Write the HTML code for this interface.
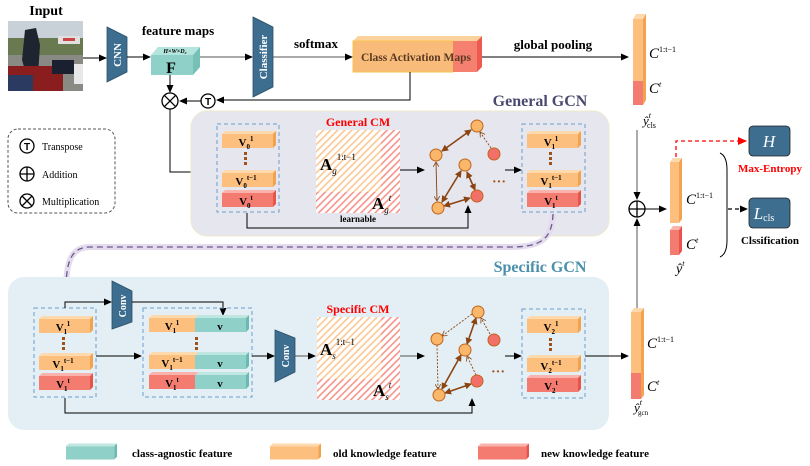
<!DOCTYPE html>
<html><head><meta charset="utf-8"><style>
html,body{margin:0;padding:0;background:#fff;}
svg{display:block;font-family:"Liberation Serif",serif;}
.b{font-weight:bold;}
</style></head><body>
<svg width="810" height="466" viewBox="0 0 810 466" xmlns="http://www.w3.org/2000/svg">
<defs>
<marker id="ar" markerWidth="8" markerHeight="8" refX="7" refY="4" orient="auto" markerUnits="userSpaceOnUse"><path d="M0,0.5 L8,4 L0,7.5 z" fill="#000"/></marker>
<marker id="arr" markerWidth="9" markerHeight="9" refX="8" refY="4.5" orient="auto" markerUnits="userSpaceOnUse"><path d="M0,0.5 L9,4.5 L0,8.5 z" fill="#f00"/></marker>
<marker id="brn" markerWidth="7" markerHeight="7" refX="6" refY="3.5" orient="auto-start-reverse" markerUnits="userSpaceOnUse"><path d="M0,0 L7,3.5 L0,7 z" fill="#8b4513"/></marker>
<marker id="brd" markerWidth="6" markerHeight="6" refX="5" refY="3" orient="auto" markerUnits="userSpaceOnUse"><path d="M0,0 L5,3 L0,6" fill="none" stroke="#8b4513" stroke-width="0.8"/></marker>
<pattern id="hO" width="5" height="5" patternUnits="userSpaceOnUse" patternTransform="rotate(45)"><rect width="5" height="5" fill="#fff"/><rect width="1.6" height="5" fill="#fbc894"/></pattern>
<pattern id="hR" width="5" height="5" patternUnits="userSpaceOnUse" patternTransform="rotate(45)"><rect width="5" height="5" fill="#fff"/><rect width="1.6" height="5" fill="#f7948c"/></pattern>
<symbol id="bo" viewBox="0 0 54 17" width="54" height="17"><path d="M0,3 L3,0 L54,0 L51,3z" fill="#fdd9ae"/><path d="M51,3 L54,0 L54,14 L51,17z" fill="#f3a24e"/><rect x="0" y="3" width="51" height="14" fill="#fdbf7e"/></symbol>
<symbol id="br" viewBox="0 0 54 17" width="54" height="17"><path d="M0,3 L3,0 L54,0 L51,3z" fill="#f9b3ac"/><path d="M51,3 L54,0 L54,14 L51,17z" fill="#e8544a"/><rect x="0" y="3" width="51" height="14" fill="#f47b70"/></symbol>
<symbol id="bt" viewBox="0 0 54 17" width="54" height="17"><path d="M0,3 L3,0 L54,0 L51,3z" fill="#bfe6e1"/><path d="M51,3 L54,0 L54,14 L51,17z" fill="#6bbab1"/><rect x="0" y="3" width="51" height="14" fill="#8fd1c8"/></symbol>
</defs>

<text x="46" y="15" class="b" font-size="14" text-anchor="middle">Input</text>
<rect x="8" y="21" width="75" height="70" fill="#9aa0a0"/>
<rect x="8" y="21" width="75" height="20" fill="#c8d0d8"/>
<rect x="8" y="38" width="75" height="18" fill="#6a7a50"/>
<rect x="58" y="36" width="22" height="8" fill="#e0e0e0"/><rect x="63" y="38" width="12" height="3" fill="#c44"/>
<rect x="8" y="55" width="75" height="36" fill="#8a8a84"/>
<path d="M25,30 L36,28 L40,45 L38,75 L28,80 L22,60z" fill="#1e2430"/>
<rect x="8" y="66" width="55" height="25" fill="#8a1e1e"/>
<rect x="52" y="60" width="22" height="14" fill="#1a2030"/>
<rect x="74" y="64" width="9" height="20" fill="#e8e8e8"/>
<rect x="8" y="75" width="25" height="16" fill="#2a3a60"/>

<path d="M107,27 L127,37 L127,72 L107,82z" fill="#3d6e8f" stroke="#2a4f66" stroke-width="0.8"/>
<text transform="translate(121,55) rotate(-90)" class="b" font-size="11" fill="#fff" text-anchor="middle">CNN</text>
<line x1="83" y1="58" x2="106" y2="58" stroke="#000" stroke-width="1" marker-end="url(#ar)"/>
<line x1="127" y1="57" x2="150" y2="57" stroke="#000" stroke-width="1" marker-end="url(#ar)"/>

<text x="178" y="35" class="b" font-size="13" text-anchor="middle">feature maps</text>
<path d="M151,55 L158,47 L200,47 L193,55z" fill="#b4e4de"/>
<path d="M193,55 L200,47 L200,67 L193,75z" fill="#75c0b7"/>
<rect x="151" y="55" width="42" height="20" fill="#8fd1c8"/>
<text x="175" y="53" font-size="6" font-style="italic" class="b" text-anchor="middle">H×W×D₀</text>
<text x="171" y="73" font-size="16" class="b" text-anchor="middle">F</text>
<line x1="200" y1="57" x2="252" y2="57" stroke="#555" stroke-width="1" marker-end="url(#ar)"/>

<path d="M253,17 L273,27 L273,87 L253,97z" fill="#3d6e8f" stroke="#2a4f66" stroke-width="0.8"/>
<text transform="translate(267,57) rotate(-90)" class="b" font-size="11" fill="#fff" text-anchor="middle">Classifier</text>
<text x="316" y="48" class="b" font-size="13" text-anchor="middle">softmax</text>
<line x1="273" y1="57" x2="352" y2="57" stroke="#555" stroke-width="1" marker-end="url(#ar)"/>

<path d="M353,41 L358,36 L482,36 L477,41z" fill="#fcd29c"/>
<rect x="353" y="41" width="100" height="31" fill="#f9bb7a" stroke="#fbc24d" stroke-width="1"/>
<rect x="453" y="41" width="24" height="31" fill="#f58070"/>
<path d="M477,41 L482,36 L482,67 L477,72z" fill="#ee5a50"/>
<text x="416" y="61" class="b" font-size="11.5" fill="#5a3a22" text-anchor="middle">Class Activation Maps</text>
<text x="553" y="49" class="b" font-size="13" text-anchor="middle">global pooling</text>
<line x1="482" y1="57" x2="628" y2="57" stroke="#000" stroke-width="1" marker-end="url(#ar)"/>

<path d="M633,19 L636,14 L646,14 L643,19z" fill="#fdd9ae"/>
<path d="M643,19 L646,14 L646,100 L643,105z" fill="#f3a24e"/>
<rect x="633" y="19" width="10" height="62" fill="#fdbf7e"/>
<rect x="633" y="81" width="10" height="24" fill="#f47b70"/>
<text x="649" y="58" font-size="15" font-style="italic">C<tspan font-size="8" dy="-6" font-style="normal">1:t−1</tspan></text>
<text x="649" y="93" font-size="15" font-style="italic">C<tspan font-size="8" dy="-6">t</tspan></text>
<text x="643" y="125" font-size="13" font-style="italic">ŷ<tspan font-size="8" dy="-7">t</tspan><tspan font-size="8" dx="-4" dy="10" font-style="normal">cls</tspan></text>

<polyline points="410,72 410,100 217,100" fill="none" stroke="#000" stroke-width="1" marker-end="url(#ar)"/>
<circle cx="208" cy="101" r="7" fill="#fff" stroke="#000" stroke-width="1.3"/>
<text x="208" y="105" font-size="10" class="b" text-anchor="middle" font-family="Liberation Sans,sans-serif">T</text>
<line x1="201" y1="101" x2="180" y2="101" stroke="#000" stroke-width="1" marker-end="url(#ar)"/>
<line x1="170" y1="75" x2="170" y2="92" stroke="#000" stroke-width="1" marker-end="url(#ar)"/>
<circle cx="170" cy="101" r="8" fill="#fff" stroke="#000" stroke-width="1.3"/>
<path d="M164.3,95.3 L175.7,106.7 M175.7,95.3 L164.3,106.7" stroke="#000" stroke-width="1.3"/>
<polyline points="170,109 170,172 215,172" fill="none" stroke="#000" stroke-width="1" marker-end="url(#ar)"/>

<rect x="8" y="129" width="107" height="84" rx="10" fill="#fff" stroke="#555" stroke-dasharray="3,2" stroke-width="1"/>
<circle cx="27" cy="146" r="7" fill="#fff" stroke="#000" stroke-width="1.3"/>
<text x="27" y="150" font-size="10" class="b" text-anchor="middle" font-family="Liberation Sans,sans-serif">T</text>
<text x="42" y="150" font-size="10">Transpose</text>
<circle cx="27" cy="174" r="7" fill="#fff" stroke="#000" stroke-width="1.3"/>
<path d="M20,174 L34,174 M27,167 L27,181" stroke="#000" stroke-width="1.3"/>
<text x="42" y="178" font-size="10">Addition</text>
<circle cx="27" cy="201" r="7" fill="#fff" stroke="#000" stroke-width="1.3"/>
<path d="M22,196 L32,206 M32,196 L22,206" stroke="#000" stroke-width="1.3"/>
<text x="42" y="205" font-size="10">Multiplication</text>

<text x="540" y="106" class="b" font-size="16" fill="#4a4a70" text-anchor="middle">General GCN</text>
<rect x="191" y="111" width="418" height="125" rx="16" fill="#e6e6ee" stroke="#efeacc" stroke-width="1"/>
<rect x="217" y="124" width="62" height="88" fill="none" stroke="#6a9ecf" stroke-dasharray="4,3" stroke-width="1"/>
<use href="#bo" x="222" y="131"/><use href="#bo" x="222" y="170"/><use href="#br" x="222" y="190"/>
<text x="246" y="146" class="b" font-size="11" text-anchor="middle">V<tspan font-size="7" dy="3">0</tspan><tspan font-size="7" dy="-8">1</tspan></text>
<text x="246" y="185" class="b" font-size="11" text-anchor="middle">V<tspan font-size="7" dy="3">0</tspan><tspan font-size="7" dy="-8">t−1</tspan></text>
<text x="246" y="205" class="b" font-size="11" text-anchor="middle">V<tspan font-size="7" dy="3">0</tspan><tspan font-size="7" dy="-8">t</tspan></text>
<g fill="#a0521a"><rect x="244" y="152" width="3" height="3"/><rect x="244" y="157" width="3" height="3"/><rect x="244" y="162" width="3" height="3"/></g>

<text x="358" y="126" class="b" font-size="12" fill="#f00" text-anchor="middle">General CM</text>
<rect x="316" y="130" width="65" height="62" fill="url(#hO)"/>
<rect x="381" y="130" width="19" height="83" fill="url(#hR)"/>
<rect x="316" y="192" width="65" height="21" fill="url(#hR)"/>
<text x="320" y="170" class="b" font-size="17">A<tspan font-size="9" dy="4" font-style="italic" font-weight="normal">g</tspan><tspan font-size="9" dy="-14" font-weight="normal">1:t−1</tspan></text>
<text x="372" y="209" class="b" font-size="17">A<tspan font-size="9" dy="4" font-style="italic" font-weight="normal">g</tspan><tspan font-size="9" dy="-12" font-style="italic" font-weight="normal">t</tspan></text>
<text x="358" y="222" class="b" font-size="9" text-anchor="middle">learnable</text>
<line x1="400" y1="170" x2="424" y2="170" stroke="#000" stroke-width="1" marker-end="url(#ar)"/>

<g stroke="#8b4513" fill="none">
<line x1="442" y1="151" x2="471" y2="130" stroke-width="1.6" marker-start="url(#brn)" marker-end="url(#brn)"/>
<line x1="461" y1="171" x2="442" y2="202" stroke-width="1.6" marker-start="url(#brn)" marker-end="url(#brn)"/>
<line x1="467" y1="172" x2="475" y2="190" stroke-width="1.6" marker-start="url(#brn)" marker-end="url(#brn)"/>
<line x1="444" y1="206" x2="470" y2="198" stroke-width="1.6" marker-start="url(#brn)" marker-end="url(#brn)"/>
<line x1="491" y1="148" x2="480" y2="132" stroke-width="0.9" stroke-dasharray="2,1.5" marker-end="url(#brd)"/>
<line x1="437" y1="201" x2="436" y2="162" stroke-width="0.9" stroke-dasharray="2,1.5" marker-end="url(#brd)"/>
<line x1="436" y1="162" x2="437" y2="201" stroke-width="0.9" stroke-dasharray="2,1.5" marker-end="url(#brd)"/>
</g>
<g stroke="#c0641e" stroke-width="1">
<circle cx="477" cy="126" r="6" fill="#fbb769"/><circle cx="494" cy="154" r="6" fill="#f37068"/>
<circle cx="436" cy="155" r="6" fill="#fbb769"/><circle cx="465" cy="165" r="6" fill="#fbb769"/>
<circle cx="477" cy="196" r="6" fill="#f37068"/><circle cx="438" cy="208" r="6" fill="#fbb769"/>
</g>
<text x="499" y="186" font-size="14" fill="#a0521a" class="b" text-anchor="middle">···</text>
<line x1="505" y1="170" x2="521" y2="170" stroke="#000" stroke-width="1" marker-end="url(#ar)"/>

<rect x="522" y="124" width="63" height="88" fill="none" stroke="#6a9ecf" stroke-dasharray="4,3" stroke-width="1"/>
<use href="#bo" x="527" y="131"/><use href="#bo" x="527" y="170"/><use href="#br" x="527" y="190"/>
<text x="551" y="146" class="b" font-size="11" text-anchor="middle">V<tspan font-size="7" dy="3">1</tspan><tspan font-size="7" dy="-8">1</tspan></text>
<text x="551" y="185" class="b" font-size="11" text-anchor="middle">V<tspan font-size="7" dy="3">1</tspan><tspan font-size="7" dy="-8">t−1</tspan></text>
<text x="551" y="205" class="b" font-size="11" text-anchor="middle">V<tspan font-size="7" dy="3">1</tspan><tspan font-size="7" dy="-8">t</tspan></text>
<g fill="#a0521a"><rect x="549" y="152" width="3" height="3"/><rect x="549" y="157" width="3" height="3"/><rect x="549" y="162" width="3" height="3"/></g>

<polyline points="247,213 247,228 468,228 468,206" fill="none" stroke="#000" stroke-width="1" marker-end="url(#ar)"/>

<path d="M553,214 C552,240 540,247 510,247 L90,247 C72,247 66,260 66,290" fill="none" stroke="#e4dcee" stroke-width="6"/>
<path d="M553,214 C552,240 540,247 510,247 L90,247 C72,247 66,260 66,290" fill="none" stroke="#6a5a8a" stroke-width="1.3" stroke-dasharray="6,4"/>
<path d="M61,286 L71,286 L66,294z" fill="#5a4a7a"/>

<line x1="637" y1="130" x2="637" y2="199" stroke="#555" stroke-width="1" marker-end="url(#ar)"/>
<line x1="637" y1="309" x2="637" y2="219" stroke="#555" stroke-width="1" marker-end="url(#ar)"/>
<circle cx="637" cy="209" r="8" fill="#fff" stroke="#000" stroke-width="1.3"/>
<path d="M629,209 L645,209 M637,201 L637,217" stroke="#000" stroke-width="1.3"/>
<line x1="645" y1="209" x2="666" y2="209" stroke="#000" stroke-width="1" marker-end="url(#ar)"/>

<path d="M670,162 L673,158 L682,158 L679,162z" fill="#fdd9ae"/>
<path d="M679,162 L682,158 L682,219 L679,223z" fill="#f3a24e"/>
<rect x="670" y="162" width="9" height="61" fill="#fdbf7e"/>
<path d="M670,230 L673,226 L682,226 L679,230z" fill="#f9b3ac"/>
<path d="M679,230 L682,226 L682,251 L679,255z" fill="#e8544a"/>
<rect x="670" y="230" width="9" height="25" fill="#f47b70"/>
<text x="686" y="204" font-size="15" font-style="italic">C<tspan font-size="8" dy="-6" font-style="normal">1:t−1</tspan></text>
<text x="686" y="249" font-size="15" font-style="italic">C<tspan font-size="8" dy="-6">t</tspan></text>
<text x="676" y="273" font-size="14" font-style="italic">ŷ<tspan font-size="8" dy="-7">t</tspan></text>

<polyline points="676,157 676,141 746,141" fill="none" stroke="#f00" stroke-width="1.3" stroke-dasharray="4,3" marker-end="url(#arr)"/>
<rect x="749" y="126" width="41" height="30" rx="4" fill="#3d6e8f" stroke="#222" stroke-width="0.8"/>
<text x="769" y="147" font-size="17" font-style="italic" fill="#fff" text-anchor="middle">H</text>
<text x="770" y="172" class="b" font-size="11" fill="#f00" text-anchor="middle">Max-Entropy</text>
<path d="M720,153 Q727,156 727,170 L727,240 Q727,254 720,257" fill="none" stroke="#000" stroke-width="1"/>
<line x1="728" y1="209" x2="747" y2="209" stroke="#000" stroke-width="1.2" stroke-dasharray="4,3" marker-end="url(#ar)"/>
<rect x="749" y="198" width="41" height="30" rx="4" fill="#3d6e8f" stroke="#222" stroke-width="0.8"/>
<text x="764" y="219" font-size="17" font-style="italic" fill="#fff" text-anchor="middle">L<tspan font-size="10" font-style="normal" dy="2">cls</tspan></text>
<text x="770" y="244" class="b" font-size="11" text-anchor="middle">Clssification</text>

<text x="540" y="272" class="b" font-size="16" fill="#4a90aa" text-anchor="middle">Specific GCN</text>
<rect x="8" y="277" width="601" height="153" rx="16" fill="#e3eff4"/>

<rect x="34" y="308" width="62" height="89" fill="none" stroke="#6a9ecf" stroke-dasharray="4,3" stroke-width="1"/>
<use href="#bo" x="39" y="316"/><use href="#bo" x="39" y="353"/><use href="#br" x="39" y="373"/>
<text x="63" y="331" class="b" font-size="11" text-anchor="middle">V<tspan font-size="7" dy="3">1</tspan><tspan font-size="7" dy="-8">1</tspan></text>
<text x="63" y="368" class="b" font-size="11" text-anchor="middle">V<tspan font-size="7" dy="3">1</tspan><tspan font-size="7" dy="-8">t−1</tspan></text>
<text x="63" y="388" class="b" font-size="11" text-anchor="middle">V<tspan font-size="7" dy="3">1</tspan><tspan font-size="7" dy="-8">t</tspan></text>
<g fill="#a0521a"><rect x="62" y="337" width="3" height="3"/><rect x="62" y="342" width="3" height="3"/><rect x="62" y="347" width="3" height="3"/></g>

<path d="M112,281 L132,291 L132,322 L112,329z" fill="#3d6e8f" stroke="#2a4f66" stroke-width="0.8"/>
<text transform="translate(126,306) rotate(-90)" class="b" font-size="10" fill="#fff" text-anchor="middle">Conv</text>
<polyline points="65,308 65,302 111,302" fill="none" stroke="#000" stroke-width="1" marker-end="url(#ar)"/>
<polyline points="132,302 223,302 223,315" fill="none" stroke="#000" stroke-width="1" marker-end="url(#ar)"/>
<line x1="96" y1="356" x2="141" y2="356" stroke="#000" stroke-width="1" marker-end="url(#ar)"/>

<rect x="143" y="308" width="109" height="89" fill="none" stroke="#6a9ecf" stroke-dasharray="4,3" stroke-width="1"/>
<g>
<rect x="149" y="318" width="47" height="14" fill="#fdbf7e"/><rect x="149" y="355" width="47" height="14" fill="#fdbf7e"/><rect x="149" y="375" width="47" height="14" fill="#f47b70"/>
<use href="#bt" x="195" y="315"/><use href="#bt" x="195" y="352"/><use href="#bt" x="195" y="372"/>
<path d="M149,318 L152,315 L198,315 L196,318z" fill="#fdd9ae"/><path d="M149,355 L152,352 L198,352 L196,355z" fill="#fdd9ae"/><path d="M149,375 L152,372 L198,372 L196,375z" fill="#f9b3ac"/>
</g>
<text x="172" y="330" class="b" font-size="11" text-anchor="middle">V<tspan font-size="7" dy="3">1</tspan><tspan font-size="7" dy="-8">1</tspan></text>
<text x="172" y="367" class="b" font-size="11" text-anchor="middle">V<tspan font-size="7" dy="3">1</tspan><tspan font-size="7" dy="-8">t−1</tspan></text>
<text x="172" y="387" class="b" font-size="11" text-anchor="middle">V<tspan font-size="7" dy="3">1</tspan><tspan font-size="7" dy="-8">t</tspan></text>
<text x="220" y="330" class="b" font-size="11" text-anchor="middle">v</text>
<text x="220" y="367" class="b" font-size="11" text-anchor="middle">v</text>
<text x="220" y="387" class="b" font-size="11" text-anchor="middle">v</text>
<g fill="#a0521a"><rect x="195" y="337" width="3" height="3"/><rect x="195" y="342" width="3" height="3"/><rect x="195" y="347" width="3" height="3"/></g>

<line x1="252" y1="356" x2="274" y2="356" stroke="#000" stroke-width="1" marker-end="url(#ar)"/>
<path d="M275,330 L295,338 L295,372 L275,382z" fill="#3d6e8f" stroke="#2a4f66" stroke-width="0.8"/>
<text transform="translate(289,356) rotate(-90)" class="b" font-size="10" fill="#fff" text-anchor="middle">Conv</text>
<line x1="295" y1="356" x2="315" y2="356" stroke="#555" stroke-width="1" marker-end="url(#ar)"/>

<text x="358" y="313" class="b" font-size="12" fill="#f00" text-anchor="middle">Specific CM</text>
<rect x="317" y="317" width="64" height="62" fill="url(#hO)"/>
<rect x="381" y="317" width="19" height="83" fill="url(#hR)"/>
<rect x="317" y="379" width="64" height="21" fill="url(#hR)"/>
<text x="320" y="355" class="b" font-size="17">A<tspan font-size="9" dy="4" font-style="italic" font-weight="normal">s</tspan><tspan font-size="9" dy="-14" font-weight="normal">1:t−1</tspan></text>
<text x="373" y="396" class="b" font-size="17">A<tspan font-size="9" dy="4" font-style="italic" font-weight="normal">s</tspan><tspan font-size="9" dy="-12" font-style="italic" font-weight="normal">t</tspan></text>
<line x1="400" y1="356" x2="424" y2="356" stroke="#555" stroke-width="1" marker-end="url(#ar)"/>

<g stroke="#8b4513" fill="none">
<line x1="476" y1="318" x2="467" y2="344" stroke-width="1.6" marker-start="url(#brn)" marker-end="url(#brn)"/>
<line x1="461" y1="355" x2="442" y2="389" stroke-width="1.6" marker-start="url(#brn)" marker-end="url(#brn)"/>
<line x1="445" y1="393" x2="471" y2="384" stroke-width="1.6" marker-start="url(#brn)" marker-end="url(#brn)"/>
<line x1="472" y1="314" x2="442" y2="336" stroke-width="0.9" stroke-dasharray="2,1.5" marker-end="url(#brd)"/>
<line x1="490" y1="334" x2="481" y2="318" stroke-width="0.9" stroke-dasharray="2,1.5" marker-end="url(#brd)"/>
<line x1="437" y1="345" x2="438" y2="389" stroke-width="0.9" stroke-dasharray="2,1.5" marker-end="url(#brd)"/>
<line x1="476" y1="375" x2="467" y2="356" stroke-width="0.9" stroke-dasharray="2,1.5" marker-end="url(#brd)"/>
</g>
<g stroke="#c0641e" stroke-width="1">
<circle cx="478" cy="312" r="6" fill="#fbb769"/><circle cx="437" cy="339" r="6" fill="#fbb769"/>
<circle cx="494" cy="340" r="6" fill="#f37068"/><circle cx="465" cy="350" r="6" fill="#fbb769"/>
<circle cx="477" cy="381" r="6" fill="#f37068"/><circle cx="439" cy="395" r="6" fill="#fbb769"/>
</g>
<text x="498" y="376" font-size="14" fill="#a0521a" class="b" text-anchor="middle">···</text>
<line x1="505" y1="356" x2="521" y2="356" stroke="#000" stroke-width="1" marker-end="url(#ar)"/>

<rect x="522" y="309" width="63" height="89" fill="none" stroke="#6a9ecf" stroke-dasharray="4,3" stroke-width="1"/>
<use href="#bo" x="527" y="316"/><use href="#bo" x="527" y="355"/><use href="#br" x="527" y="375"/>
<text x="551" y="331" class="b" font-size="11" text-anchor="middle">V<tspan font-size="7" dy="3">2</tspan><tspan font-size="7" dy="-8">1</tspan></text>
<text x="551" y="370" class="b" font-size="11" text-anchor="middle">V<tspan font-size="7" dy="3">2</tspan><tspan font-size="7" dy="-8">t−1</tspan></text>
<text x="551" y="390" class="b" font-size="11" text-anchor="middle">V<tspan font-size="7" dy="3">2</tspan><tspan font-size="7" dy="-8">t</tspan></text>
<g fill="#a0521a"><rect x="549" y="338" width="3" height="3"/><rect x="549" y="343" width="3" height="3"/><rect x="549" y="348" width="3" height="3"/></g>

<polyline points="65,398 65,413 472,413 472,399" fill="none" stroke="#000" stroke-width="1" marker-end="url(#ar)"/>
<line x1="585" y1="356" x2="628" y2="356" stroke="#000" stroke-width="1" marker-end="url(#ar)"/>

<path d="M631,312 L634,308 L644,308 L641,312z" fill="#fdd9ae"/>
<path d="M641,312 L644,308 L644,395 L641,399z" fill="#f3a24e"/>
<rect x="631" y="312" width="10" height="61" fill="#fdbf7e"/>
<rect x="631" y="373" width="10" height="26" fill="#f47b70"/>
<text x="647" y="348" font-size="15" font-style="italic">C<tspan font-size="8" dy="-6" font-style="normal">1:t−1</tspan></text>
<text x="647" y="391" font-size="15" font-style="italic">C<tspan font-size="8" dy="-6">t</tspan></text>
<text x="634" y="412" font-size="13" font-style="italic">ŷ<tspan font-size="8" dy="-7">t</tspan><tspan font-size="7" dx="-4" dy="10" font-style="normal">gcn</tspan></text>

<use href="#bt" x="66" y="443" width="51" height="17"/>
<text x="132" y="457" class="b" font-size="11">class-agnostic feature</text>
<use href="#bo" x="270" y="443" width="51" height="17"/>
<text x="333" y="457" class="b" font-size="11">old knowledge feature</text>
<use href="#br" x="478" y="443" width="51" height="17"/>
<text x="541" y="457" class="b" font-size="11">new knowledge feature</text>
</svg>
</body></html>
